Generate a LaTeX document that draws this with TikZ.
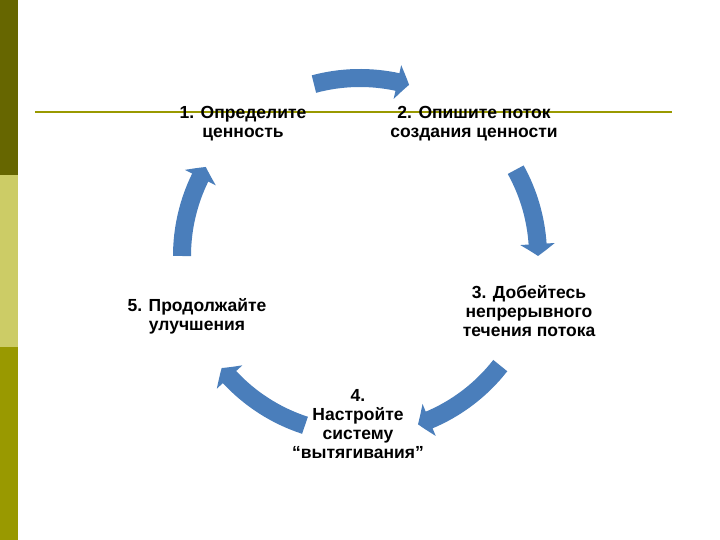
\documentclass[tikz,border=0pt]{standalone}
\usepackage{fontspec}
\setmainfont{Liberation Sans}
\usetikzlibrary{arrows.meta,bending}

\definecolor{cycleblue}{RGB}{74,126,187}
\definecolor{bardark}{RGB}{102,102,0}
\definecolor{barlight}{RGB}{204,204,102}
\definecolor{barolive}{RGB}{153,153,0}

\begin{document}
\begin{tikzpicture}[
    x=1pt, y=1pt,
    step_text/.style={align=center, font=\fontsize{17.5}{18.8}\selectfont\bfseries, inner sep=0pt},
    flow/.style={draw=cycleblue, line width=18pt, -{Triangle[length=12pt, width=34pt, bend]}}
  ]

    \useasboundingbox (0,0) rectangle (720,540);

    % Left bar and title rule
    \fill[bardark] (0,365) rectangle (18,540);
    \fill[barlight] (0,193) rectangle (18,365);
    \fill[barolive] (0,0) rectangle (18,193);
    \draw[barolive, line width=1.5pt] (35,428) -- (672,428);

    % Cycle steps
    \coordinate (c) at (360,284);
    \node[step_text] (define) at (243,416) {1. Определите\\ценность};
    \node[step_text] (stream) at (474,416) {2. Опишите поток\\создания ценности};
    \node[step_text] (flowstep) at (529,229) {3. Добейтесь\\непрерывного\\течения потока};
    \node[step_text] (pull) at (358,116) {4.\\Настройте\\систему\\“вытягивания”};
    \node[step_text] (improve) at (197,224) {5. Продолжайте\\улучшения};

    % Arrows - cycle
    \foreach \s/\e in {105/74, 29/0, -38/-71, -108/-141, 180/150}
      \draw[flow] ([shift={(c)}]\s:178) arc[start angle=\s, end angle=\e, radius=178];

  \end{tikzpicture}
\end{document}
